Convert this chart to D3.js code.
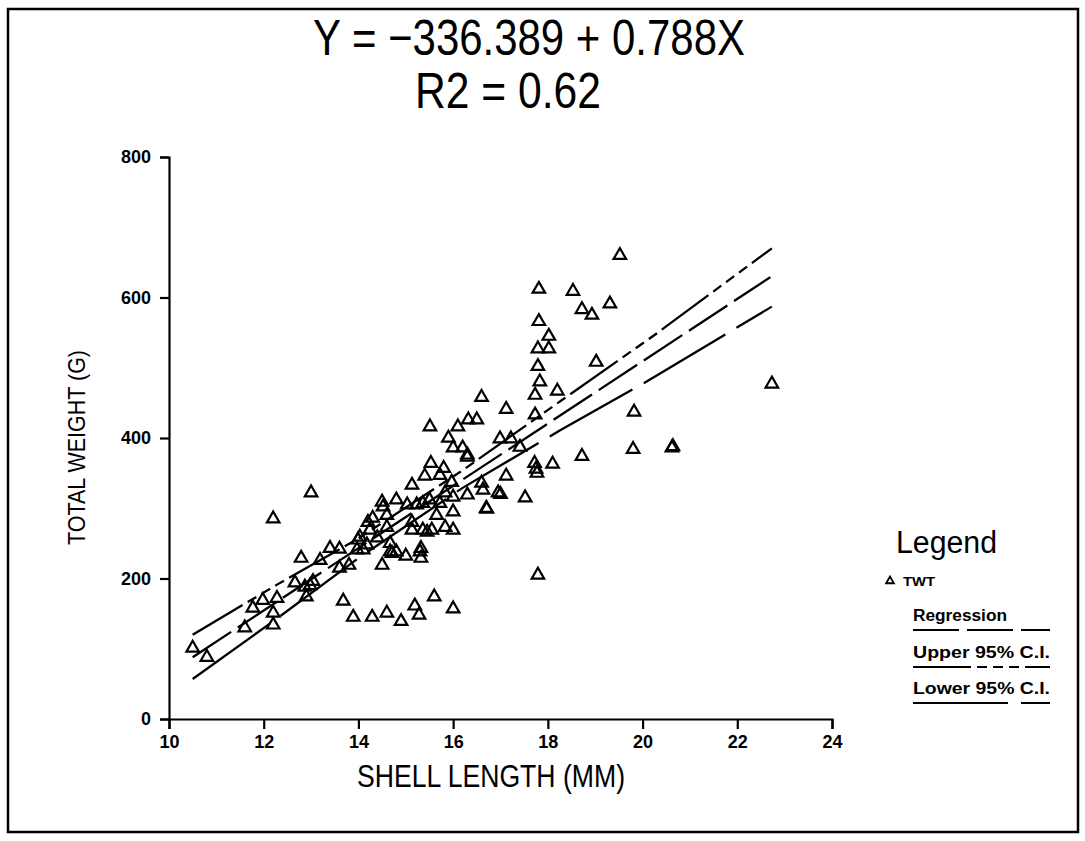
<!DOCTYPE html>
<html><head><meta charset="utf-8">
<script src="https://cdn.jsdelivr.net/npm/d3@7"></script>
<style>
html,body{margin:0;padding:0;background:#fff;}
svg{display:block;}
text{font-family:"Liberation Sans",Arial,sans-serif;fill:#000;}
</style></head>
<body>
<svg id="chart" width="1085" height="841"></svg>
<script>
// ---- data ----
const titleLines = ["Y = \u2212336.389 + 0.788X", "R2 = 0.62"];
const xLabel = "SHELL LENGTH  (MM)";
const yLabel = "TOTAL WEIGHT  (G)";
const xTicks = [10, 12, 14, 16, 18, 20, 22, 24];
const yTicks = [0, 200, 400, 600, 800];

const shellLength = [
 10.5,10.8,11.6,11.77,11.98,12.28,12.2,12.2,12.2,13.0,12.79,13.19,13.4,13.6,12.66,12.87,12.98,12.9,13.04,13.6,13.8,
 13.68,13.89,14.29,14.6,14.9,15.19,15.28,15.6,16.0,
 13.99,13.97,14.1,14.2,14.24,14.3,14.4,14.5,14.52,14.6,14.6,14.67,14.67,14.8,14.8,14.5,15.0,15.13,15.03,15.23,15.13,15.13,
 15.32,15.32,15.36,15.36,15.53,15.4,15.5,15.55,15.65,15.72,15.8,15.83,15.83,15.97,16.0,16.0,16.0,16.3,16.3,16.6,16.63,16.71,16.95,
 15.51,16.1,16.32,16.5,15.9,16.0,16.2,16.3,15.72,15.45,14.03,14.18,15.3,14.71,
 19.52,17.81,18.53,18.72,18.93,19.31,17.81,18.02,17.79,18.02,17.79,19.02,17.83,18.2,17.73,17.73,16.6,17.12,22.73,19.82,
 16.99,17.22,17.41,19.8,20.62,20.64,18.72,18.1,17.72,17.77,17.75,17.12,17.0,17.52,16.7,17.79
];
const totalWeight = [
 101,88,130,158,169,172,151,134,285,322,229,226,243,242,194,188,190,174,196,215,219,
 168,145,145,151,139,161,148,174,157,
 255,241,241,280,269,286,258,309,302,290,273,250,238,238,312,219,232,333,305,305,280,269,
 243,229,307,269,364,346,312,269,290,347,357,322,273,337,316,295,269,376,319,336,326,299,322,
 416,416,426,426,400,386,386,373,307,266,259,248,238,236,
 660,612,609,583,575,591,566,545,527,527,502,508,480,467,461,433,458,441,477,437,
 399,399,387,384,386,388,374,363,364,350,356,346,320,315,300,205
];

const regX = [10.5, 22.7];
const regY = [88, 629];
const upperX = [10.5, 12.3, 14, 16.2, 18.36, 20.26, 22.73];
const upperY = [120, 192, 257, 354, 457, 547, 670];
const lowerX = [10.5, 12.3, 14, 16.2, 18.26, 20, 22.73];
const lowerY = [57, 144, 229, 329, 411, 477, 587];

const legendTitle = "Legend";
const legendItems = ["Regression", "Upper 95% C.I.", "Lower 95% C.I."];
const seriesName = "TWT";

// ---- drawing ----
const svg = d3.select("#chart");
const x = d3.scaleLinear().domain([10, 24]).range([169, 832]);
const y = d3.scaleLinear().domain([0, 800]).range([719, 157]);

// frame
svg.append("rect").attr("x", 8).attr("y", 9).attr("width", 1070).attr("height", 823)
  .attr("fill", "none").attr("stroke", "#000").attr("stroke-width", 2.5);

// title
const titleFont = "'DejaVu Sans',sans-serif";
svg.append("text").attr("x", 313).attr("y", 55)
  .attr("font-family", titleFont).attr("font-weight", 200)
  .attr("font-size", 50).attr("textLength", 432).attr("lengthAdjust", "spacingAndGlyphs")
  .text(titleLines[0]);
svg.append("text").attr("x", 415).attr("y", 108)
  .attr("font-family", titleFont).attr("font-weight", 200)
  .attr("font-size", 50).attr("textLength", 186).attr("lengthAdjust", "spacingAndGlyphs")
  .text(titleLines[1]);

// axes
const xAxis = d3.axisBottom(x).tickValues(xTicks).tickSize(10).tickPadding(6).tickFormat(d3.format("d"));
const yAxis = d3.axisLeft(y).tickValues(yTicks).tickSize(9).tickPadding(9).tickFormat(d3.format("d"));
const gx = svg.append("g").attr("transform", `translate(0,${y(0)})`).call(xAxis);
const gy = svg.append("g").attr("transform", `translate(${x(10)},0)`).call(yAxis);
[gx, gy].forEach(g => {
  g.select(".domain").attr("stroke", "#000").attr("stroke-width", 2.2);
  g.selectAll(".tick line").attr("stroke", "#000").attr("stroke-width", 2.2);
  g.selectAll(".tick text").attr("font-size", 18).attr("font-weight", "bold")
    .attr("font-family", "'Liberation Sans',Arial,sans-serif").attr("fill", "#000");
});

// axis labels
svg.append("text").attr("x", 357).attr("y", 787)
  .attr("font-family", titleFont).attr("font-weight", 200)
  .attr("font-size", 32).attr("textLength", 268).attr("lengthAdjust", "spacingAndGlyphs").text(xLabel);
svg.append("text").attr("transform", `translate(85,545) rotate(-90)`)
  .attr("font-family", titleFont).attr("font-weight", 200)
  .attr("font-size", 24).attr("textLength", 195).attr("lengthAdjust", "spacingAndGlyphs").text(yLabel);

// lines
const dashReg = "46,8";
const dashUpper = "58,6,10,6,10,6,10,6";
const dashLower = "95,13";
const line = d3.line().x(d => x(d[0])).y(d => y(d[1]));
function drawLine(xs, ys, dash) {
  svg.append("path").datum(xs.map((v, i) => [v, ys[i]])).attr("d", line)
    .attr("fill", "none").attr("stroke", "#000").attr("stroke-width", 2.3)
    .attr("stroke-dasharray", dash);
}
drawLine(regX, regY, dashReg);
drawLine(upperX, upperY, dashUpper);
drawLine(lowerX, lowerY, dashLower);

// points
const tri = d3.symbol().type(d3.symbolTriangle).size(68);
svg.append("g").selectAll("path").data(shellLength.map((v, i) => [v, totalWeight[i]]))
  .join("path").attr("d", tri)
  .attr("transform", d => `translate(${x(d[0])},${y(d[1])})`)
  .attr("fill", "none").attr("stroke", "#000").attr("stroke-width", 2.2);

// legend
svg.append("text").attr("x", 896).attr("y", 553)
  .attr("font-family", titleFont).attr("font-weight", 200)
  .attr("font-size", 31).attr("textLength", 101).attr("lengthAdjust", "spacingAndGlyphs").text(legendTitle);
svg.append("path").attr("d", d3.symbol().type(d3.symbolTriangle).size(26)())
  .attr("transform", "translate(890,581)").attr("fill", "none").attr("stroke", "#000").attr("stroke-width", 1.8);
svg.append("text").attr("x", 903).attr("y", 586).attr("font-size", 13).attr("font-weight", "bold")
  .attr("textLength", 32).attr("lengthAdjust", "spacingAndGlyphs").text(seriesName);
const legDash = [dashReg, dashUpper, dashLower];
const legY = [621, 658, 694];
const legLen = [94, 137, 137];
legendItems.forEach((t, i) => {
  svg.append("text").attr("x", 913).attr("y", legY[i]).attr("font-size", 16).attr("font-weight", "bold")
    .attr("textLength", legLen[i]).attr("lengthAdjust", "spacingAndGlyphs").text(t);
  svg.append("line").attr("x1", 913).attr("x2", 1050).attr("y1", legY[i] + 9).attr("y2", legY[i] + 9)
    .attr("stroke", "#000").attr("stroke-width", 2).attr("stroke-dasharray", legDash[i]);
});
</script>
</body></html>
